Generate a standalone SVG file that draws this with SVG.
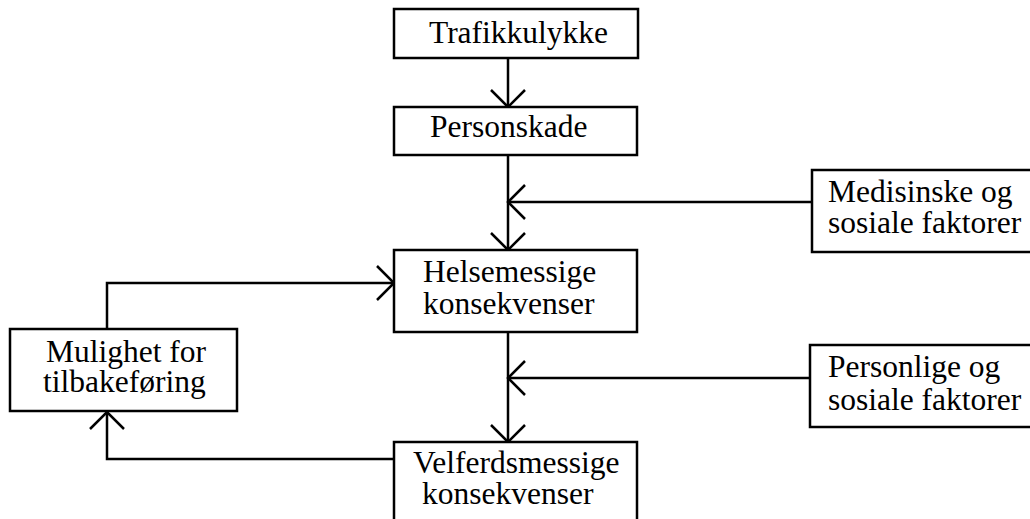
<svg xmlns="http://www.w3.org/2000/svg" width="1030" height="519" viewBox="0 0 1030 519">
  <style>
    .box { fill: #ffffff; stroke: #000000; stroke-width: 2.5; }
    .lbl { font-family: "Liberation Serif", "Times New Roman", serif; font-size: 31.5px; fill: #000000; }
    .wire { fill: none; stroke: #000000; stroke-width: 2.5; }
  </style>
  <defs>
    <marker id="vee" markerUnits="userSpaceOnUse" markerWidth="40" markerHeight="40" viewBox="-20 -20 40 40" refX="0" refY="0" orient="auto" overflow="visible">
      <path d="M-17,-17 L0,0 L-17,17" fill="none" stroke="#000000" stroke-width="2.5"/>
    </marker>
  </defs>

  <rect width="1030" height="519" fill="#ffffff"/>

  <g id="connectors">
    <line class="wire" x1="508" y1="58" x2="508" y2="107" marker-end="url(#vee)"/>
    <line class="wire" x1="508" y1="155" x2="508" y2="250" marker-end="url(#vee)"/>
    <line class="wire" x1="812" y1="202" x2="508" y2="202" marker-end="url(#vee)"/>
    <line class="wire" x1="508" y1="332" x2="508" y2="442" marker-end="url(#vee)"/>
    <line class="wire" x1="810" y1="378" x2="508" y2="378" marker-end="url(#vee)"/>
    <polyline class="wire" points="394,459 107,459 107,412" marker-end="url(#vee)"/>
    <polyline class="wire" points="107,329 107,283 394,283" marker-end="url(#vee)"/>
  </g>

  <g id="trafikkulykke">
    <rect class="box" x="394" y="9" width="244" height="49"/>
    <text class="lbl" x="429" y="43">Trafikkulykke</text>
  </g>

  <g id="personskade">
    <rect class="box" x="394" y="107" width="243" height="48"/>
    <text class="lbl" x="430" y="137">Personskade</text>
  </g>

  <g id="helsemessige">
    <rect class="box" x="394" y="250" width="243" height="82"/>
    <text class="lbl" x="423" y="282">Helsemessige</text>
    <text class="lbl" x="423" y="314">konsekvenser</text>
  </g>

  <g id="velferdsmessige">
    <rect class="box" x="394" y="442" width="243" height="100"/>
    <text class="lbl" x="413" y="473">Velferdsmessige</text>
    <text class="lbl" x="422" y="504">konsekvenser</text>
  </g>

  <g id="medisinske">
    <rect class="box" x="812" y="170" width="240" height="82"/>
    <text class="lbl" x="828" y="202">Medisinske og</text>
    <text class="lbl" x="828" y="233">sosiale faktorer</text>
  </g>

  <g id="personlige">
    <rect class="box" x="810" y="345" width="240" height="82"/>
    <text class="lbl" x="828" y="377">Personlige og</text>
    <text class="lbl" x="828" y="410">sosiale faktorer</text>
  </g>

  <g id="mulighet">
    <rect class="box" x="10" y="329" width="227" height="82"/>
    <text class="lbl" x="46" y="362">Mulighet for</text>
    <text class="lbl" x="43" y="392">tilbakeføring</text>
  </g>
</svg>
